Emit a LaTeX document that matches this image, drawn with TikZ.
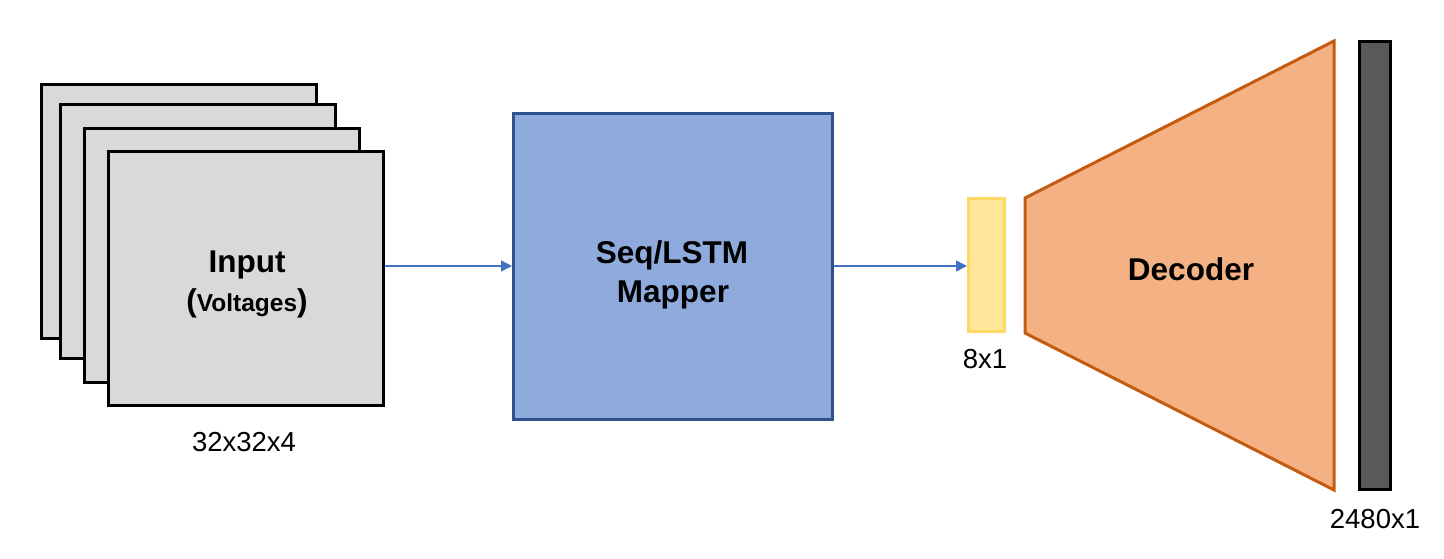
\documentclass[tikz,border=0pt]{standalone}
\usepackage{fontspec}
\setmainfont{Liberation Sans}
\usetikzlibrary{arrows.meta}
\definecolor{ingray}{HTML}{D9D9D9}
\definecolor{mapfill}{HTML}{8FAADC}
\definecolor{mapdraw}{HTML}{2F528F}
\definecolor{arrowblue}{HTML}{4472C4}
\definecolor{yelfill}{HTML}{FFE699}
\definecolor{yeldraw}{HTML}{FFD966}
\definecolor{decfill}{HTML}{F4B183}
\definecolor{decdraw}{HTML}{C55A11}
\definecolor{barfill}{HTML}{595959}
\tikzset{
  layer/.style={draw=black, fill=ingray, line width=3pt, inner sep=0pt, minimum width=275pt, minimum height=254pt, anchor=north west},
  conn/.style={draw=arrowblue, line width=1.5pt, -{Triangle[length=11pt,width=11pt]}},
  lbl/.style={font=\fontsize{27.5}{32}\selectfont, inner sep=0pt, anchor=base},
  bigtxt/.style={font=\fontsize{31.5}{36}\selectfont\bfseries, inner sep=0pt, anchor=base}
}
\begin{document}
\begin{tikzpicture}[x=1pt,y=-1pt]
\useasboundingbox (0,0) rectangle (1444,558);
% input stack
\node[layer] (l1) at (40,83) {};
\node[layer] (l2) at (59,103) {};
\node[layer] (l3) at (83,127) {};
\node[layer] (l4) at (107,150) {};
\node[bigtxt] (intxt) at (247,272) {Input};
\node[inner sep=0pt, anchor=base] (involt) at (247,311) {{\fontsize{31.5}{36}\selectfont\bfseries (}{\fontsize{24.5}{28}\selectfont\bfseries Voltages}{\fontsize{31.5}{36}\selectfont\bfseries )}};
\node[lbl] (indim) at (244,451) {32x32x4};
% mapper
\node[draw=mapdraw, fill=mapfill, line width=3pt, inner sep=0pt, minimum width=319pt, minimum height=306pt, anchor=north west] (map) at (512,112) {};
\node[bigtxt] (maptxt) at (672,263) {Seq/LSTM};
\node[bigtxt] (maptxt2) at (673,302) {Mapper};
% latent
\node[draw=yeldraw, fill=yelfill, line width=3pt, inner sep=0pt, minimum width=36pt, minimum height=133pt, anchor=north west] (lat) at (967,197) {};
\node[lbl] (latdim) at (985,368) {8x1};
% decoder
\coordinate (d1) at (1025,198);
\coordinate (d2) at (1334,41);
\coordinate (d3) at (1334,490);
\coordinate (d4) at (1025,333);
\draw[draw=decdraw, fill=decfill, line width=3pt, line join=miter] (d1) -- (d2) -- (d3) -- (d4) -- cycle;
\node[bigtxt] (dectxt) at (1191,280) {Decoder};
% output bar
\node[draw=black, fill=barfill, line width=3pt, inner sep=0pt, minimum width=31pt, minimum height=448pt, anchor=north west] (out) at (1358,40) {};
\node[lbl] (outdim) at (1375,528) {2480x1};
% connectors
\draw[conn] (l4.east |- 0,266) -- (map.west |- 0,266);
\draw[conn] (map.east |- 0,266) -- (lat.west |- 0,266);
\end{tikzpicture}
\end{document}
